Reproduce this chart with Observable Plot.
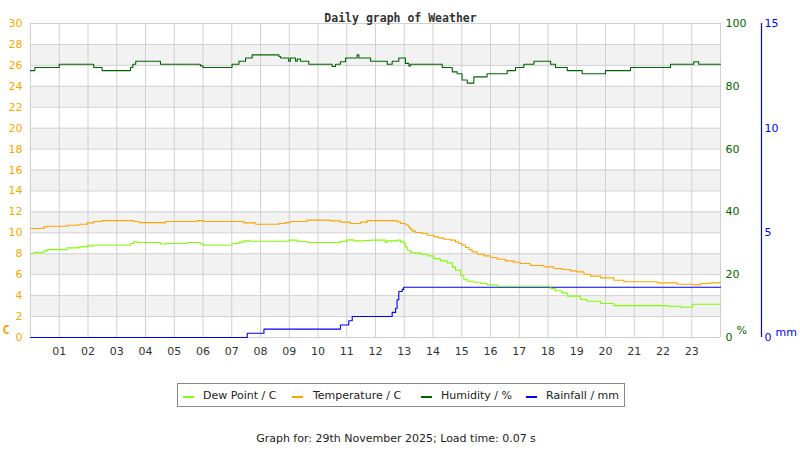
<!DOCTYPE html>
<html>
<head>
<meta charset="utf-8">
<script src="https://cdn.jsdelivr.net/npm/d3@7"></script>
<script src="https://cdn.jsdelivr.net/npm/@observablehq/plot@0.6"></script>
<style>
  html, body { margin: 0; padding: 0; background: #fff; }
  body { width: 800px; height: 450px; position: relative; overflow: hidden; font-family: "DejaVu Sans", sans-serif; }
  #chart { position: absolute; left: 0; top: 0; }
  #legend { position: absolute; left: 177px; top: 383px; width: 448px; height: 24px; border: 1px solid #888; box-sizing: border-box; font-size: 11px; color: #222; }
  .item { position: absolute; top: 4px; height: 16px; line-height: 16px; white-space: nowrap; }
  .sw { position: absolute; top: 12px; width: 11px; height: 2px; }
  #footer { position: absolute; left: 0; width: 792px; top: 432px; text-align: center; font-size: 11px; color: #222; }
</style>
</head>
<body>
<div id="chart"></div>
<div id="legend"></div>
<div id="footer">Graph for: 29th November 2025; Load time: 0.07 s</div>
<script>
const title = "Daily graph of Weather";
const seriesNames = ["Dew Point / C", "Temperature / C", "Humidity / %", "Rainfall / mm"];
const seriesColors = ["#7FFF00", "#FFA500", "#006400", "#0000FF"];
const hourTicks = d3.range(1, 24);
const tempTicks = d3.range(0, 31, 2);
const humTicks = [0, 20, 40, 60, 80, 100];
const rainTicks = [0, 5, 10, 15];

const tempHours = [0,0.46,0.58,1.28,1.68,1.97,2.2,2.49,3.59,3.77,4.7,5.8,6.03,7.42,7.83,8.64,8.87,9.04,9.62,10.43,10.78,11.13,11.48,11.71,12.75,12.87,13.04,13.08,13.16,13.22,13.28,13.39,13.62,13.80,14.03,14.20,14.38,14.61,14.78,14.90,15.01,15.13,15.25,15.36,15.54,15.77,16.00,16.23,16.52,16.81,17.04,17.39,17.86,18.20,18.49,18.78,19.01,19.25,19.48,19.83,20.29,20.64,21.80,22.49,23.07,23.30,23.65,23.94,24];
const tempValues = [10.41,10.57,10.63,10.73,10.82,10.95,11.08,11.17,11.08,10.98,11.08,11.17,11.08,10.95,10.82,10.89,10.98,11.08,11.21,11.14,11.02,10.89,11.02,11.17,11.05,10.89,10.82,10.73,10.51,10.32,10.16,10.03,9.93,9.77,9.61,9.52,9.39,9.30,9.14,8.98,8.82,8.60,8.40,8.18,7.96,7.80,7.64,7.48,7.32,7.19,7.07,6.88,6.75,6.59,6.49,6.37,6.27,6.05,5.86,5.70,5.47,5.32,5.22,5.09,5.03,5.16,5.22,5.28,5.28];

const dewHours = [0,0.12,0.46,0.58,1.28,1.68,1.97,2.2,3.48,3.59,3.71,4.52,4.70,5.45,5.91,6.03,7.01,7.25,7.42,7.65,8.99,9.28,9.62,10.78,11.01,11.25,11.59,11.83,12.35,12.41,12.75,12.87,12.99,13.04,13.10,13.22,13.57,13.80,14.03,14.26,14.49,14.67,14.78,14.96,15.07,15.19,15.42,15.65,15.88,16.23,18.09,18.26,18.49,18.67,19.13,19.36,19.83,20.29,22.15,22.61,23.02,24];
const dewValues = [8.02,8.12,8.28,8.40,8.56,8.66,8.75,8.82,8.98,9.14,9.08,8.94,8.98,9.08,8.94,8.82,8.98,9.11,9.23,9.20,9.30,9.17,9.08,9.17,9.33,9.23,9.27,9.30,9.08,9.23,9.30,9.14,8.98,8.66,8.34,8.09,7.96,7.80,7.54,7.32,7.13,6.75,6.43,5.95,5.57,5.38,5.28,5.16,5.03,4.90,4.68,4.46,4.26,3.95,3.63,3.47,3.25,3.05,2.99,2.89,3.18,3.25];

const humHours = [0,0.15,1.0,2.2,2.49,3.48,3.56,3.66,4.52,5.91,6.0,7.01,7.25,7.48,7.71,8.64,8.7,8.98,9.04,9.22,9.28,9.39,9.68,10.49,10.61,10.78,10.96,11.36,11.42,11.83,12.41,12.58,12.81,13.04,13.16,13.22,14.32,14.67,14.84,15.01,15.19,15.42,15.88,16.35,16.58,16.87,17.16,17.51,18.09,18.26,18.67,19.19,19.83,20.0,20.87,22.26,23.07,23.24,24];
const humValues = [85,86,87,86,85,86,87,88,87,86.5,86,87,88,89,90,89.5,89,88,89,88,88.7,88,87,86.3,87,87.8,89,90,89,88,87,88,89,87.3,86.5,87,86,84.6,84,82,81,83,84,84,85,86,87,88,87,86,85,84,84,85,86,87,87.8,87,87];

const rainHours = [0,7.54,8.12,10.78,11.07,11.19,12.58,12.7,12.75,12.81,12.93,12.98,24];
const rainValues = [0,0.2,0.4,0.6,0.8,1.0,1.2,1.4,1.8,2.2,2.3,2.4,2.4];

const toRows = (hs, vs) => hs.map((h, i) => ({h, v: vs[i]}));
const temp = toRows(tempHours, tempValues);
const dew = toRows(dewHours, dewValues);
const hum = toRows(humHours, humValues);
const rain = toRows(rainHours, rainValues);

const humToT = v => v * 0.3;   // 100 % -> 30
const rainToT = v => v * 2;    // 15 mm -> 30
const bands = d3.range(2, 28, 4);

const chart = Plot.plot({
  width: 800,
  height: 360,
  marginTop: 23,
  marginBottom: 23,
  marginLeft: 30,
  marginRight: 80,
  x: {domain: [0, 24]},
  y: {domain: [0, 30]},
  style: {fontFamily: "DejaVu Sans, sans-serif", fontSize: "11px", overflow: "visible", background: "#fff"},
  marks: [
    Plot.rect(bands, {x1: () => 0, x2: () => 24, y1: d => d, y2: d => d + 2, fill: "#f2f2f2"}),
    Plot.gridY({ticks: tempTicks, stroke: "#d0d0d0", strokeOpacity: 1}),
    Plot.gridX({ticks: d3.range(0, 25), stroke: "#d0d0d0", strokeOpacity: 1}),
    Plot.axisX({ticks: hourTicks, tickFormat: d => String(d).padStart(2, "0"), tickSize: 0, tickPadding: 10, color: "#333", label: null}),
    Plot.axisY({ticks: tempTicks, tickSize: 0, tickPadding: 8, color: seriesColors[1], label: null, anchor: "left"}),
    Plot.axisY({ticks: humTicks.map(humToT), tickFormat: d => String(Math.round(d / 0.3)), tickSize: 0, tickPadding: 5, color: seriesColors[2], label: null, anchor: "right"}),
    Plot.axisY({ticks: rainTicks.map(rainToT), tickFormat: d => String(Math.round(d / 2)), tickSize: 0, tickPadding: 3, dx: 41, color: seriesColors[3], label: null, anchor: "right"}),
    Plot.ruleX([24], {dx: 41, stroke: seriesColors[3], strokeWidth: 1.2}),
    Plot.line(rain, {x: "h", y: d => rainToT(d.v), curve: "step-after", stroke: seriesColors[3], strokeWidth: 1.1}),
    Plot.line(dew, {x: "h", y: "v", curve: "step-after", stroke: seriesColors[0], strokeWidth: 1.1}),
    Plot.line(temp, {x: "h", y: "v", curve: "step-after", stroke: seriesColors[1], strokeWidth: 1.1}),
    Plot.line(hum, {x: "h", y: d => humToT(d.v), curve: "step-after", stroke: seriesColors[2], strokeWidth: 1.1}),
    Plot.text([title], {frameAnchor: "top", dx: 25, dy: -10, fontFamily: "DejaVu Sans Mono, monospace", fontWeight: "bold", fontSize: 11.5, fill: "#333"}),
    Plot.text(["C"], {frameAnchor: "bottom-left", dx: -28, dy: -4, textAnchor: "start", fontFamily: "DejaVu Sans Mono, monospace", fontWeight: "bold", fontSize: 12, fill: seriesColors[1]}),
    Plot.text(["%"], {frameAnchor: "bottom-right", dx: 16, dy: -4, textAnchor: "start", fontSize: 11, fill: seriesColors[2]}),
    Plot.text(["mm"], {frameAnchor: "bottom-right", dx: 55, dy: -2, textAnchor: "start", fontSize: 11, fill: seriesColors[3]})
  ]
});
document.getElementById("chart").append(chart);

const legendPos = [[5, 25], [114, 135], [243, 263], [348, 368]];
const legend = document.getElementById("legend");
seriesNames.forEach((name, i) => {
  const sw = document.createElement("div");
  sw.className = "sw";
  sw.style.left = legendPos[i][0] + "px";
  sw.style.background = seriesColors[i];
  legend.append(sw);
  const t = document.createElement("div");
  t.className = "item";
  t.style.left = legendPos[i][1] + "px";
  t.textContent = name;
  legend.append(t);
});
</script>
</body>
</html>
